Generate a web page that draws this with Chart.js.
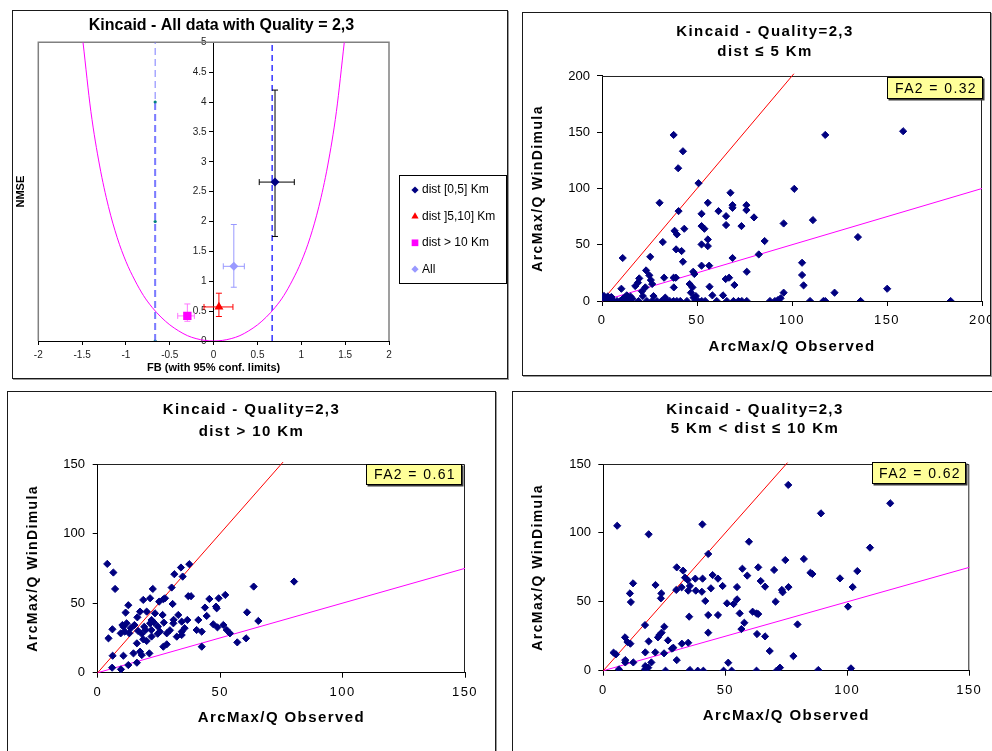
<!DOCTYPE html>
<html>
<head>
<meta charset="utf-8">
<title>Kincaid - Quality 2,3</title>
<script src="https://cdn.jsdelivr.net/npm/chart.js@4.4.1/dist/chart.umd.min.js"></script>
<style>
  html, body { margin: 0; padding: 0; background: #fff; overflow: hidden; }
  body { position: relative; width: 992px; height: 751px; }
  .panel { position: absolute; border: 1px solid #1a1a1a; box-shadow: 1px 1px 0 #9a9a9a; background: #fff; overflow: hidden; }
  .panel canvas { display: block; }
</style>
</head>
<body>
<div class="panel" style="left:12px; top:10px; width:494px; height:367px;"><canvas id="summaryChart" width="494" height="367"></canvas></div>
<div class="panel" style="left:522px; top:12px; width:467px; height:362px;"><canvas id="nearChart" width="467" height="362"></canvas></div>
<div class="panel" style="left:7px; top:391px; width:487px; height:370px;"><canvas id="farChart" width="487" height="359"></canvas></div>
<div class="panel" style="left:512px; top:391px; width:490px; height:370px;"><canvas id="midChart" width="479" height="359"></canvas></div>

<script>
// summary panel: FB / NMSE per distance class
const groupNames = ['dist [0,5] Km', 'dist ]5,10] Km', 'dist > 10 Km', 'All'];
const groupFB = [0.70, 0.06, -0.30, 0.23];
const groupNMSE = [2.66, 0.57, 0.42, 1.25];
const fbLow = [0.52, -0.11, -0.41, 0.11];
const fbHigh = [0.92, 0.22, -0.22, 0.35];
const nmseLow = [1.75, 0.41, 0.33, 0.90];
const nmseHigh = [4.20, 0.80, 0.62, 1.95];

// minimum NMSE curve
const curveFB = [-1.49, -1.4, -1.3, -1.2, -1.1, -1.0, -0.9, -0.8, -0.7, -0.6, -0.5, -0.4, -0.3, -0.2, -0.1, 0,
                 0.1, 0.2, 0.3, 0.4, 0.5, 0.6, 0.7, 0.8, 0.9, 1.0, 1.1, 1.2, 1.3, 1.4, 1.49];
const curveNMSE = [5.0, 3.84, 2.93, 2.25, 1.73, 1.33, 1.02, 0.76, 0.56, 0.40, 0.27, 0.17, 0.09, 0.04, 0.01, 0,
                   0.01, 0.04, 0.09, 0.17, 0.27, 0.40, 0.56, 0.76, 1.02, 1.33, 1.73, 2.25, 2.93, 3.84, 5.0];
const fbBound = [-0.667, 0.667];
const boundMarks = [0, 2, 4];

const fbTicks = [-2, -1.5, -1, -0.5, 0, 0.5, 1, 1.5, 2];
const nmseTicks = [0, 0.5, 1, 1.5, 2, 2.5, 3, 3.5, 4, 4.5, 5];

// dist <= 5 Km
const obsNear = [37.7, 42.6, 40.1, 50.8, 30.3, 40.3, 67.6, 55.7, 68.7, 68.7, 76, 76, 61.3, 52.4, 65.3, 80,
  65.3, 52.4, 53.9, 73.4, 43.3, 38.2, 39.4, 32, 55.7, 55.7, 52.4, 39, 41.9, 85.6, 95.6, 101.2,
  111, 117.5, 158.5, 134.7, 105.3, 105.3, 106.1, 122.4, 150.1, 82.5, 68.7, 76.2, 10.9, 25.4, 42.6, 52.4,
  56.4, 48, 48.6, 32.7, 37.7, 38.9, 23.2, 24.9, 25.7, 19.6, 18.9, 17.5, 26.4, 10.2, 22.8, 37.8,
  46.1, 47.6, 46.8, 56.6, 69.7, 66.9, 65.1, 21, 21.5, 27.1, 58.1, 63.7, 49.4, 48.2, 33.3, 95.6, 94, 92.6,
  7.9, 9.6, 12.3, 14.9, 19.3, 23.6, 26.3, 28.9, 31.3, 34.1, 35.7, 37.7, 39.4, 41.2, 44.7, 49,
  50.6, 52.5, 54.3, 60.4, 65.7, 69.2, 71.8, 73.6, 76.2, 88.4, 91, 109.5, 116.5, 117.5, 136.1, 183.5,
  0, 0.5, 1, 1.5, 2, 2.5, 3, 3.5, 4, 4.5, 5, 6, 1, 2, 3, 5, 12, 13, 14, 15, 11, 16];
const simNear = [147.6, 133.1, 118, 104.7, 87.3, 79.9, 96.2, 87.3, 85.2, 82.8, 85.2, 80.8, 79.9, 77.5, 75.4, 74.3,
  67.5, 66.6, 64.2, 66.6, 64.2, 62.4, 59.2, 52.4, 54.7, 48.8, 50.3, 45.9, 44.4, 53.3, 68.9, 99.7,
  71.9, 147.6, 150.9, 56.8, 34, 23.1, 13.9, 7.4, 10.9, 41.4, 38.2, 26, 38.2, 39.3, 34.9, 31.4,
  31.4, 26, 24, 20.7, 20.7, 20.7, 27.2, 22.8, 18.6, 20.1, 16.3, 13.3, 15.1, 10.9, 12.1, 12.1,
  15.1, 12.1, 7.4, 12.7, 14.2, 20.7, 19.5, 8.6, 4.4, 4.4, 5, 5, 4.4, 3, 3, 7.4, 2.4, 0.9,
  0, 0, 0, 0, 0, 0, 0, 0, 0, 0, 0, 0, 0, 0, 0, 0,
  0, 0, 0, 0, 0, 0, 0, 0, 0, 0, 0, 0, 0, 0, 0, 0,
  0, 2.5, 4.5, 1, 3, 0.5, 4, 1.5, 0, 3, 1, 0, 0, 1.5, 0, 3.5, 3, 5, 1.5, 4, 2, 2];

// dist > 10 Km
const obsFar = [3.9, 6.4, 7.1, 4.4, 6, 6.1, 5.9, 9.5, 12.5, 11.4, 10.1, 11.8, 9.4, 11.1, 12.9, 15,
  16.2, 17.3, 18.6, 22.5, 21.4, 20, 23.4, 26.5, 26.8, 25.1, 30.6, 30.2, 31.3, 34, 37.4, 34.7,
  37, 38.1, 30.9, 32.9, 34.3, 36.6, 34.3, 32.3, 34.3, 28.2, 25.4, 24.6, 21.9, 19.6, 21.4, 20,
  18.6, 16, 17.3, 18, 14.6, 21.1, 10.5, 12.5, 16, 26.8, 28.2, 41.1, 40.4, 42.5, 42.5, 43.8,
  44.5, 45.6, 47.2, 48.3, 49.4, 48.6, 48.9, 51.3, 52.1, 52.7, 54, 57, 60.6, 61, 63.7, 65.6, 80.2,
  22, 27.5, 10.5, 13.5, 16.5, 19, 23, 27, 29.5, 31, 35.5, 22, 24.5, 18];
const simFar = [78.2, 72, 60.2, 24.7, 31.2, 12.2, 3.6, 2.4, 48.5, 43.2, 34.3, 35.5, 28.3, 29.5, 28.3, 34.3,
  39.8, 43.9, 52.3, 60.2, 53.5, 43.9, 42.7, 41.5, 52.8, 51.1, 49.4, 61.2, 70.8, 75.6, 78, 69.1,
  55, 55, 35.5, 41.5, 36.7, 37.9, 29.5, 25.9, 27.1, 28.3, 29.5, 33.1, 30.7, 30.7, 35.5, 22.8,
  24, 21.1, 15.1, 12.7, 13.9, 13.9, 12.2, 5.5, 7.2, 18.7, 20.4, 37.9, 30.7, 29.5, 18.7, 46.8,
  40.8, 53, 34.8, 47.5, 53.5, 46.3, 32.6, 34.3, 55.9, 30.7, 28.3, 21.8, 24.7, 43.4, 61.9, 37.2, 65.5,
  37.9, 53.5, 33.1, 32, 30, 33, 36, 36, 30.5, 38, 32, 26, 28, 28];

// 5 Km < dist <= 10 Km
const obsMid = [5.7, 18.6, 40.6, 75.8, 117.6, 89.2, 109.3, 59.7, 43, 30.1, 32.7, 33.5, 34.6, 37.7, 40.7, 44.8,
  47, 48.9, 29.9, 32.1, 34.8, 35.5, 37.9, 40.4, 44.1, 41.8, 57, 59, 63.5, 64.5, 66.3, 70,
  74.6, 75.9, 73.2, 73.5, 82.2, 84.9, 85.7, 97, 104.1, 102.2, 100.3, 54.8, 54.8, 53.4, 50.7, 55.9,
  57.8, 56.6, 61.2, 63.5, 62.8, 66.3, 63, 70.6, 68.2, 79.6, 77.9, 43, 47, 35.2, 43, 10.9,
  12.2, 11.3, 21.4, 23.8, 23.6, 17.1, 8.9, 9.9, 11.1, 17.2, 18.6, 21.3, 22.4, 23, 23.9, 25,
  26.5, 24.9, 28.1, 28.7, 32.2, 34.8, 30.1, 9, 9, 12.3, 19.7, 4.2, 5.2, 17.2, 18.4, 17.1,
  6.4, 25.5, 35.5, 38.7, 41, 51.2, 49.3, 52.6, 62.8, 71, 72.4, 88.1, 101.5];
const simMid = [105.2, 99, 106.2, 134.8, 121.5, 114.2, 89.3, 93.6, 84.7, 75, 72.6, 67.5, 65.8, 66.8, 66.8, 69.4,
  66.8, 61.5, 58.6, 60.5, 58.1, 61.5, 58.1, 57.3, 59.8, 50.6, 74, 69, 75, 65.1, 61, 73.1,
  80.3, 60.7, 58.6, 56.9, 81.1, 71.1, 70.2, 67, 72.3, 60.7, 46.5, 60.7, 51.8, 48.4, 48.9, 41.6,
  34.8, 30.2, 42.8, 41.1, 41.6, 24.9, 26.6, 50.1, 14.3, 33.6, 10.6, 40.4, 40.4, 39.2, 27.6, 56.1,
  63.4, 49.8, 62.2, 56.1, 52.5, 33.1, 24.2, 20.8, 19.6, 13.3, 21.3, 13.3, 24.2, 25.9, 27.6, 31.9,
  22, 12.6, 16, 16.7, 19.6, 20.3, 7.7, 7.7, 6, 6, 6, 13.1, 11.9, 3.4, 2.2, 1,
  1, 0, 0.5, 0, 0, 5.8, 0, 0, 0, 0, 2.2, 0.5, 1.7];

// factor-of-two lines (end points as drawn)
const upperNear = [[0, 0], [101, 202]];
const lowerNear = [[0, 0], [200, 100]];
const upperFar = [[0, 0], [75.7, 151.4]];
const lowerFar = [[0, 0], [150, 75]];
const upperMid = [[0, 0], [75.5, 151]];
const lowerMid = [[0, 0], [150, 75]];

const ticks200 = [0, 50, 100, 150, 200];
const ticks150 = [0, 50, 100, 150];
const fa2Values = ['0.32', '0.61', '0.62'];

// ---- styles ----
const FONT = '"Liberation Sans", Arial, Helvetica, sans-serif';
Chart.defaults.font.family = FONT;
Chart.defaults.color = '#000';

const groupColors = ['#000080', '#ff0000', '#ff00ff', '#9999ff'];
const barColors = ['#000000', '#ff0000', '#ff77ff', '#9999ff'];
const groupStyles = ['rectRot', 'triangle', 'rect', 'rectRot'];
const groupSizes = [4.5, 5.2, 5.9, 4.5];

function toPoints(xs, ys) {
  return xs.map((x, i) => ({ x: x, y: ys[i] }));
}

function fixedTicks(values) {
  return scale => { scale.ticks = values.map(v => ({ value: v })); };
}

function drawMarker(ctx, style, r, x, y) {
  if (Chart.helpers && Chart.helpers.drawPoint) {
    Chart.helpers.drawPoint(ctx, { pointStyle: style, radius: r, rotation: 0, borderWidth: 0 }, x, y);
    return;
  }
  ctx.beginPath();
  ctx.arc(x, y, r, 0, Math.PI * 2);
  ctx.fill();
}

// ---- summary chart ----
const summarySets = [];
groupNames.forEach((name, i) => {
  summarySets.push({
    label: name,
    data: [{ x: groupFB[i], y: groupNMSE[i] }],
    pointStyle: groupStyles[i],
    pointRadius: groupSizes[i],
    backgroundColor: groupColors[i],
    borderColor: groupColors[i],
    borderWidth: 0
  });
});
groupNames.forEach((name, i) => {
  summarySets.push({
    type: 'line',
    data: [{ x: groupFB[i], y: nmseLow[i] }, { x: groupFB[i], y: nmseHigh[i] }],
    borderColor: barColors[i], borderWidth: 1,
    pointStyle: 'line', pointRadius: 3, pointBorderColor: barColors[i], pointBorderWidth: 1
  });
  summarySets.push({
    type: 'line',
    data: [{ x: fbLow[i], y: groupNMSE[i] }, { x: fbHigh[i], y: groupNMSE[i] }],
    borderColor: barColors[i], borderWidth: 1,
    pointStyle: 'line', pointRotation: 90, pointRadius: 3, pointBorderColor: barColors[i], pointBorderWidth: 1
  });
});
summarySets.push({
  type: 'line', data: toPoints(curveFB, curveNMSE),
  borderColor: '#ff00ff', borderWidth: 1, pointRadius: 0, cubicInterpolationMode: 'monotone'
});
summarySets.push({
  type: 'line', data: [{ x: fbBound[0], y: 0 }, { x: fbBound[0], y: 5 }],
  borderColor: '#7b7bff', borderWidth: 1, borderDash: [7, 4], pointRadius: 0
});
summarySets.push({
  type: 'line', data: boundMarks.map(v => ({ x: fbBound[0], y: v })),
  borderColor: '#7b7bff', borderWidth: 2, borderDash: [7, 4],
  pointRadius: 1.6, pointBackgroundColor: '#008080', pointBorderWidth: 0
});
summarySets.push({
  type: 'line', data: [{ x: fbBound[1], y: 0 }, { x: fbBound[1], y: 5 }],
  borderColor: '#0000ff', borderWidth: 1.2, borderDash: [6, 4], pointRadius: 0
});

const summaryDecor = {
  id: 'summaryDecor',
  beforeDatasetsDraw(chart) {
    const { left, right, top, bottom } = chart.chartArea;
    const ctx = chart.ctx;
    ctx.save();
    ctx.strokeStyle = '#808080';
    ctx.lineWidth = 1.5;
    ctx.beginPath();
    ctx.moveTo(left, bottom);
    ctx.lineTo(left, top);
    ctx.lineTo(right, top);
    ctx.lineTo(right, bottom);
    ctx.stroke();
    ctx.restore();
  },
  afterDraw(chart) {
    const ctx = chart.ctx;
    const x0 = chart.chartArea.right + 10;
    const y0 = 164;
    ctx.save();
    ctx.strokeStyle = '#000';
    ctx.lineWidth = 1;
    ctx.strokeRect(x0 + 0.5, y0 + 0.5, 107, 108);
    ctx.font = '12px ' + FONT;
    ctx.textBaseline = 'middle';
    groupNames.forEach((name, i) => {
      const y = y0 + 15 + i * 26.4;
      ctx.fillStyle = groupColors[i];
      drawMarker(ctx, groupStyles[i], groupSizes[i] * 0.8, x0 + 16, y);
      ctx.fillStyle = '#000';
      ctx.fillText(name, x0 + 23, y);
    });
    ctx.restore();
  }
};

new Chart(document.getElementById('summaryChart'), {
  type: 'scatter',
  data: { datasets: summarySets },
  options: {
    responsive: false, animation: false, devicePixelRatio: 1, events: [],
    layout: { padding: { left: 0, right: 77, top: 0, bottom: 0 } },
    plugins: {
      legend: { display: false },
      tooltip: { enabled: false },
      title: {
        display: true, text: 'Kincaid - All data with Quality = 2,3', color: '#000',
        font: { size: 16, weight: 'bold' }, padding: { top: 5.4, bottom: 6.7 }
      }
    },
    scales: {
      x: {
        type: 'linear', min: -2, max: 2, afterBuildTicks: fixedTicks(fbTicks),
        grid: { drawOnChartArea: false, tickLength: 4, color: '#000' },
        border: { color: '#000', width: 1 },
        ticks: { font: { size: 10 }, color: '#222', padding: 4, autoSkip: false, maxRotation: 0, callback: v => String(v) },
        title: { display: true, text: 'FB (with 95% conf. limits)', color: '#000', font: { size: 11, weight: 'bold' }, padding: { top: 0, bottom: 3.4 } },
        afterFit: s => { s.height = 37; s.paddingLeft = 0; s.paddingRight = 0; }
      },
      y: {
        type: 'linear', position: { x: 0 }, min: 0, max: 5, afterBuildTicks: fixedTicks(nmseTicks),
        grid: { drawOnChartArea: false, tickLength: 4, color: '#000' },
        border: { color: '#000', width: 1 },
        ticks: { display: false }
      },
      yLabels: {
        type: 'linear', position: { x: -0.08 }, min: 0, max: 5, afterBuildTicks: fixedTicks(nmseTicks),
        grid: { display: false }, border: { display: false },
        ticks: { font: { size: 10 }, color: '#222', callback: v => String(v) }
      },
      yTitle: {
        type: 'linear', position: 'left', min: 0, max: 5,
        grid: { display: false }, border: { display: false }, ticks: { display: false },
        title: { display: true, text: 'NMSE', color: '#000', font: { size: 11, weight: 'bold' }, padding: { top: 1.1, bottom: 0 } },
        afterFit: s => { s.width = 25.3; }
      },
      yRight: {
        type: 'linear', position: 'right', min: 0, max: 5,
        grid: { display: false }, border: { display: false }, ticks: { display: false },
        afterFit: s => { s.width = 41; }
      }
    }
  },
  plugins: [summaryDecor]
});

// ---- scatter panels ----
const geoNear = { padL: 25, padR: 8, titleTop: 9, titleBottom: 14, titleLH: 1.333, yW: 54, yTitlePad: -18.4,
  xH: 74, xTitlePad: 19.3, xTickPad: 6.9, yTickPad: 7, boxDx: 1, boxDy: 1, boxW: 96, boxH: 22 };
const geoFar = { padL: 30, padR: 30, titleTop: 6.85, titleBottom: 20.55, titleLH: 1.487, yW: 59.7, yTitlePad: -13.1,
  xH: 78.3, xTitlePad: 24.3, xTickPad: 6.8, yTickPad: 7.7, boxDx: -2.7, boxDy: 0, boxW: 96, boxH: 21 };
const geoMid = { padL: 27.7, padR: 22.7, titleTop: 8.35, titleBottom: 25.05, titleLH: 1.287, yW: 62.6, yTitlePad: -10.8,
  xH: 80.3, xTitlePad: 26, xTickPad: 7.2, yTickPad: 7.3, boxDx: -3.6, boxDy: -1.7, boxW: 94, boxH: 22 };

function scatterPanel(canvasId, obs, sim, upper, lower, axisMax, tickValues, titleLines, fa2, g) {
  const decor = {
    id: 'fa2Decor',
    beforeDraw(chart) { chart.ctx.letterSpacing = '1.4px'; },
    beforeDatasetsDraw(chart) {
      const { left, right, top, bottom } = chart.chartArea;
      const ctx = chart.ctx;
      ctx.save();
      ctx.strokeStyle = '#222';
      ctx.lineWidth = 1;
      ctx.beginPath();
      ctx.moveTo(left, top + 0.5);
      ctx.lineTo(right - 0.5, top + 0.5);
      ctx.lineTo(right - 0.5, bottom);
      ctx.stroke();
      ctx.restore();
    },
    afterDatasetsDraw(chart) {
      const ctx = chart.ctx;
      const x0 = Math.round(chart.chartArea.right + g.boxDx - g.boxW);
      const y0 = Math.round(chart.chartArea.top + g.boxDy);
      ctx.save();
      ctx.fillStyle = '#3a3a3a';
      ctx.fillRect(x0 + 1.5, y0 + 1.5, g.boxW, g.boxH);
      ctx.fillStyle = '#ffff99';
      ctx.fillRect(x0, y0, g.boxW, g.boxH);
      ctx.strokeStyle = '#000';
      ctx.lineWidth = 1;
      ctx.strokeRect(x0 + 0.5, y0 + 0.5, g.boxW - 1, g.boxH - 1);
      ctx.fillStyle = '#000';
      ctx.font = '14px ' + FONT;
      ctx.textAlign = 'center';
      ctx.textBaseline = 'middle';
      ctx.fillText('FA2 = ' + fa2, x0 + g.boxW / 2 + 1, y0 + g.boxH / 2 + 1);
      ctx.restore();
      ctx.letterSpacing = '0px';
    }
  };

  new Chart(document.getElementById(canvasId), {
    type: 'scatter',
    data: {
      datasets: [
        { data: toPoints(obs, sim), pointStyle: 'rectRot', pointRadius: 3.6,
          backgroundColor: '#000080', borderColor: '#000080', borderWidth: 1 },
        { type: 'line', data: upper.map(p => ({ x: p[0], y: p[1] })), borderColor: '#ff0000', borderWidth: 1, pointRadius: 0, clip: false },
        { type: 'line', data: lower.map(p => ({ x: p[0], y: p[1] })), borderColor: '#ff00ff', borderWidth: 1, pointRadius: 0, clip: false }
      ]
    },
    options: {
      responsive: false, animation: false, devicePixelRatio: 1, events: [],
      layout: { padding: { left: g.padL, right: g.padR, top: 0, bottom: 0 } },
      plugins: {
        legend: { display: false },
        tooltip: { enabled: false },
        title: {
          display: true, text: titleLines, color: '#000',
          font: { size: 15, weight: 'bold', lineHeight: g.titleLH },
          padding: { top: g.titleTop, bottom: g.titleBottom }
        }
      },
      scales: {
        x: {
          type: 'linear', min: 0, max: axisMax, afterBuildTicks: fixedTicks(tickValues),
          grid: { drawOnChartArea: false, tickLength: 5, color: '#000' },
          border: { color: '#000', width: 1 },
          ticks: { font: { size: 13 }, color: '#000', padding: g.xTickPad, autoSkip: false, maxRotation: 0, callback: v => String(v) },
          title: { display: true, text: 'ArcMax/Q Observed', color: '#000', font: { size: 15, weight: 'bold' }, padding: { top: 0, bottom: g.xTitlePad } },
          afterFit: s => { s.height = g.xH; s.paddingLeft = 0; s.paddingRight = 0; }
        },
        y: {
          type: 'linear', min: 0, max: axisMax, afterBuildTicks: fixedTicks(tickValues),
          grid: { drawOnChartArea: false, tickLength: 5, color: '#000' },
          border: { color: '#000', width: 1 },
          ticks: { z: 1, font: { size: 13 }, color: '#000', padding: g.yTickPad, callback: v => String(v) },
          title: { display: true, text: 'ArcMax/Q WinDimula', color: '#000', font: { size: 14, weight: 'bold' }, padding: { top: g.yTitlePad, bottom: 0 } },
          afterFit: s => { s.width = g.yW; s.paddingTop = 0; s.paddingBottom = 0; }
        }
      }
    },
    plugins: [decor]
  });
}

scatterPanel('nearChart', obsNear, simNear, upperNear, lowerNear, 200, ticks200,
  ['Kincaid - Quality=2,3', 'dist \u2264 5 Km'], fa2Values[0], geoNear);
scatterPanel('farChart', obsFar, simFar, upperFar, lowerFar, 150, ticks150,
  ['Kincaid - Quality=2,3', 'dist > 10 Km'], fa2Values[1], geoFar);
scatterPanel('midChart', obsMid, simMid, upperMid, lowerMid, 150, ticks150,
  ['Kincaid - Quality=2,3', '5 Km < dist \u2264 10 Km'], fa2Values[2], geoMid);
</script>
</body>
</html>
